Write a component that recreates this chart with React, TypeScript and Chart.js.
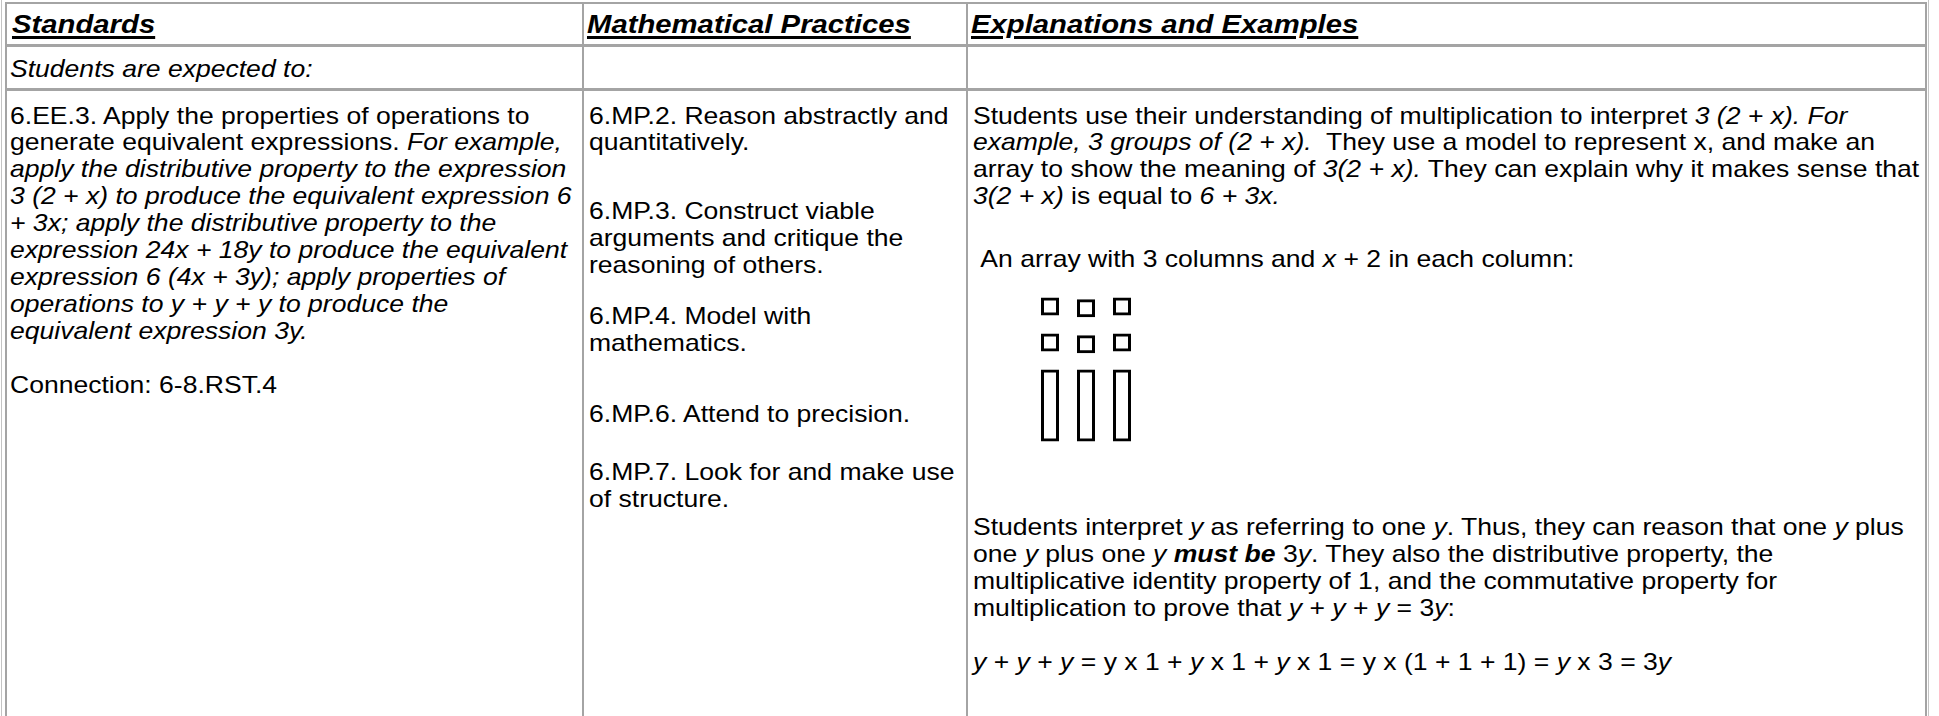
import React, { useEffect, useRef } from "react";
import { Chart, registerables } from "chart.js";

Chart.register(...registerables);

// ---- data for the array diagram (3 columns: two unit squares and one x-rod each)
const columns = ["col 1", "col 2", "col 3"];
const topSquares: [number, number][] = [[7, 8], [6.9, 7.9], [7, 8]];
const middleSquares: [number, number][] = [[5, 6], [4.9, 5.9], [5, 6]];
const rods: [number, number][] = [[0, 4], [0, 4], [0, 4]];
const yRange = [-0.25, 8.25];

// ---- layout constants (page px)
const W = 1939;
const H = 716;
const S = 1.135; // horizontal stretch of the text layer
const LH = 26.9;
const TOP1 = 102.5;
const topOf = (L: number) => TOP1 + (L - 1) * LH;
const FONT = '"Liberation Sans", Arial, Helvetica, sans-serif';
const LINE = "#a4a4a4";

const COL1 = 10;
const COL2 = 589;
const COL3 = 973;

const headers = [
  { x: 12, text: "Standards" },
  { x: 587, text: "Mathematical Practices" },
  { x: 971, text: "Explanations and Examples" },
];

const I = (t: string) => <i>{t}</i>;

const col1Lines: { L: number; c: React.ReactNode }[] = [
  { L: 1, c: <>6.EE.3. Apply the properties of operations to</> },
  { L: 2, c: <>generate equivalent expressions. {I("For example,")}</> },
  { L: 3, c: I("apply the distributive property to the expression") },
  { L: 4, c: I("3 (2 + x) to produce the equivalent expression 6") },
  { L: 5, c: I("+ 3x; apply the distributive property to the") },
  { L: 6, c: I("expression 24x + 18y to produce the equivalent") },
  { L: 7, c: I("expression 6 (4x + 3y); apply properties of") },
  { L: 8, c: I("operations to y + y + y to produce the") },
  { L: 9, c: I("equivalent expression 3y.") },
  { L: 11, c: <>Connection: 6-8.RST.4</> },
];

const col2Lines: { L: number; c: React.ReactNode }[] = [
  { L: 1, c: <>6.MP.2. Reason abstractly and</> },
  { L: 2, c: <>quantitatively.</> },
  { L: 4.55, c: <>6.MP.3. Construct viable</> },
  { L: 5.55, c: <>arguments and critique the</> },
  { L: 6.55, c: <>reasoning of others.</> },
  { L: 8.45, c: <>6.MP.4. Model with</> },
  { L: 9.45, c: <>mathematics.</> },
  { L: 12.1, c: <>6.MP.6. Attend to precision.</> },
  { L: 14.25, c: <>6.MP.7. Look for and make use</> },
  { L: 15.25, c: <>of structure.</> },
];

const col3Lines: { L: number; c: React.ReactNode }[] = [
  { L: 1, c: <>Students use their understanding of multiplication to interpret {I("3 (2 + x). For")}</> },
  { L: 2, c: <>{I("example, 3 groups of (2 + x).")}{"\u00a0 They use a model to represent x, and make an"}</> },
  { L: 3, c: <>array to show the meaning of {I("3(2 + x).")} They can explain why it makes sense that</> },
  { L: 4, c: <>{I("3(2 + x)")} is equal to {I("6 + 3x.")}</> },
  { L: 6.35, c: <>{"\u00a0An array with 3 columns and "}{I("x")} + 2 in each column:</> },
  { L: 16.3, c: <>Students interpret {I("y")} as referring to one {I("y")}. Thus, they can reason that one {I("y")} plus</> },
  { L: 17.3, c: <>one {I("y")} plus one {I("y")} <b><i>must be</i></b> 3{I("y")}. They also the distributive property, the</> },
  { L: 18.3, c: <>multiplicative identity property of 1, and the commutative property for</> },
  { L: 19.3, c: <>multiplication to prove that {I("y")} + {I("y")} + {I("y")} = 3{I("y")}:</> },
  { L: 21.3, c: <>{I("y")} + {I("y")} + {I("y")} = y x 1 + {I("y")} x 1 + {I("y")} x 1 = y x (1 + 1 + 1) = {I("y")} x 3 = 3{I("y")}</> },
];

function ArrayDiagram() {
  const ref = useRef<HTMLCanvasElement | null>(null);
  useEffect(() => {
    if (!ref.current) return;
    const common = {
      backgroundColor: "rgba(255,255,255,0)",
      borderColor: "#000000",
      borderWidth: 3,
      borderSkipped: false as const,
      barPercentage: 0.5,
      categoryPercentage: 1,
      grouped: false,
    };
    const chart = new Chart(ref.current, {
      type: "bar",
      data: {
        labels: columns,
        datasets: [
          { label: "unit squares (top)", data: topSquares as any, ...common },
          { label: "unit squares", data: middleSquares as any, ...common },
          { label: "x rods", data: rods as any, ...common },
        ],
      },
      options: {
        responsive: false,
        animation: false,
        layout: { padding: 0 },
        plugins: { legend: { display: false }, tooltip: { enabled: false } },
        scales: {
          x: { display: false },
          y: { display: false, min: yRange[0], max: yRange[1] },
        },
      },
    });
    return () => chart.destroy();
  }, []);
  return (
    <canvas
      ref={ref}
      width={108}
      height={153}
      style={{ position: "absolute", left: 1032, top: 293, width: 108, height: 153 }}
    />
  );
}

function HLine({ y, h = 3, x0 = 5, x1 = 1927 }: { y: number; h?: number; x0?: number; x1?: number }) {
  return <div style={{ position: "absolute", left: x0, top: y, width: x1 - x0, height: h, background: LINE }} />;
}
function VLine({ x, w = 2, y0 = 2, color = LINE }: { x: number; w?: number; y0?: number; color?: string }) {
  return <div style={{ position: "absolute", left: x, top: y0, width: w, height: H - y0, background: color }} />;
}

export default function App() {
  useEffect(() => {
    document.body.style.margin = "0";
    document.body.style.background = "#ffffff";
  }, []);
  const place = (x: number, L: number, c: React.ReactNode, key: string) => (
    <div key={key} style={{ position: "absolute", left: x / S, top: topOf(L) }}>
      {c}
    </div>
  );
  return (
    <div style={{ position: "absolute", left: 0, top: 0, width: W, height: H, overflow: "hidden", background: "#fff" }}>
      {/* table rules */}
      <VLine x={1} w={1} y0={0} color="#c4c4c4" />
      <VLine x={5} w={2} />
      <VLine x={582} w={2} />
      <VLine x={966} w={2} />
      <VLine x={1925} w={2} />
      <VLine x={1928} w={1} y0={0} color="#c4c4c4" />
      <HLine y={2} h={2} />
      <HLine y={44} h={3} />
      <HLine y={88} h={3} />

      {/* text layer */}
      <div
        style={{
          position: "absolute",
          left: 0,
          top: 0,
          width: W / S,
          height: H,
          transform: `scaleX(${S})`,
          transformOrigin: "0 0",
          fontFamily: FONT,
          fontSize: 23.4,
          lineHeight: `${LH}px`,
          color: "#000",
          whiteSpace: "nowrap",
        }}
      >
        {headers.map((h, i) => (
          <div
            key={"h" + i}
            style={{
              position: "absolute",
              left: h.x / S,
              top: 9,
              fontSize: 25.8,
              lineHeight: "30px",
              fontWeight: "bold",
              fontStyle: "italic",
              textDecoration: "underline",
              textDecorationThickness: "3px",
              textUnderlineOffset: "3px",
            }}
          >
            {h.text}
          </div>
        ))}
        <div style={{ position: "absolute", left: COL1 / S, top: 55.5, fontStyle: "italic" }}>
          Students are expected to:
        </div>
        {col1Lines.map((l, i) => place(COL1, l.L, l.c, "a" + i))}
        {col2Lines.map((l, i) => place(COL2, l.L, l.c, "b" + i))}
        {col3Lines.map((l, i) => place(COL3, l.L, l.c, "c" + i))}
      </div>

      <ArrayDiagram />
    </div>
  );
}
